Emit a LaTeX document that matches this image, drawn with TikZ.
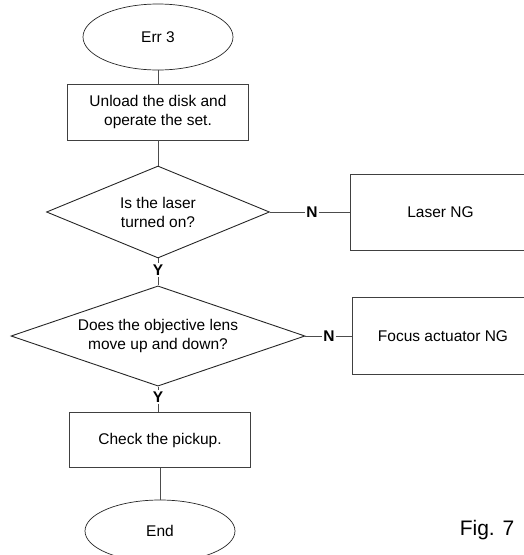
\documentclass[tikz,border=0pt]{standalone}
\usepackage{fontspec}
\setmainfont{Liberation Sans}
\usetikzlibrary{shapes.geometric}

\begin{document}
\begin{tikzpicture}[x=1pt,y=-1pt,
  every node/.style={font=\fontsize{15.5}{19}\selectfont},
  terminal/.style={draw=black!85,line width=0.7pt,ellipse,minimum width=150pt,minimum height=66pt,inner sep=0pt},
  procbox/.style={draw=black!75,line width=0.5pt,rectangle,minimum width=181pt,minimum height=56pt,align=center,inner sep=0pt},
  decision/.style={draw=black!85,line width=0.9pt,diamond,aspect=2.4,inner sep=0pt,align=center},
  yesno/.style={font=\fontsize{15.5}{19}\selectfont\bfseries,inner sep=1pt},
  link/.style={draw=black!70,line width=0.6pt}]
\useasboundingbox (0,0) rectangle (523,555);
% main column
\node[terminal] (err) at (158,37) {Err 3};
\node[procbox] (unload) at (158,112) {Unload the disk and\\operate the set.};
\node[decision,minimum width=223pt,minimum height=92pt] (laseron) at (158,212) {Is the laser\\turned on?};
\node[yesno] (y1) at (158,270) {Y};
\node[decision,minimum width=294pt,minimum height=93pt] (lensmove) at (158,336) {Does the objective lens\\move up and down?};
\node[yesno] (y2) at (158,397) {Y};
\node[procbox,minimum height=55pt] (pickup) at (160,440) {Check the pickup.};
\node[terminal,minimum height=62pt] (finish) at (160,531) {End};
% side branches
\node[yesno] (n1) at (312,212) {N};
\node[procbox,minimum height=76pt] (laserng) at (440.5,212) {Laser NG};
\node[yesno] (n2) at (329,336) {N};
\node[procbox,minimum height=77pt] (focusng) at (443,336) {Focus actuator NG};
\node[font=\fontsize{21}{25}\selectfont] (figlabel) at (487,530) {Fig. 7};
% connectors
\draw[link] (err) -- (unload);
\draw[link] (unload) -- (laseron);
\draw[link] (laseron) -- (y1) -- (lensmove);
\draw[link] (lensmove) -- (y2);
\draw[link] (y2) -- (y2 |- pickup.north);
\draw[link] (pickup) -- (finish);
\draw[link] (laseron) -- (n1) -- (laserng);
\draw[link] (lensmove) -- (n2) -- (focusng);
\end{tikzpicture}
\end{document}
